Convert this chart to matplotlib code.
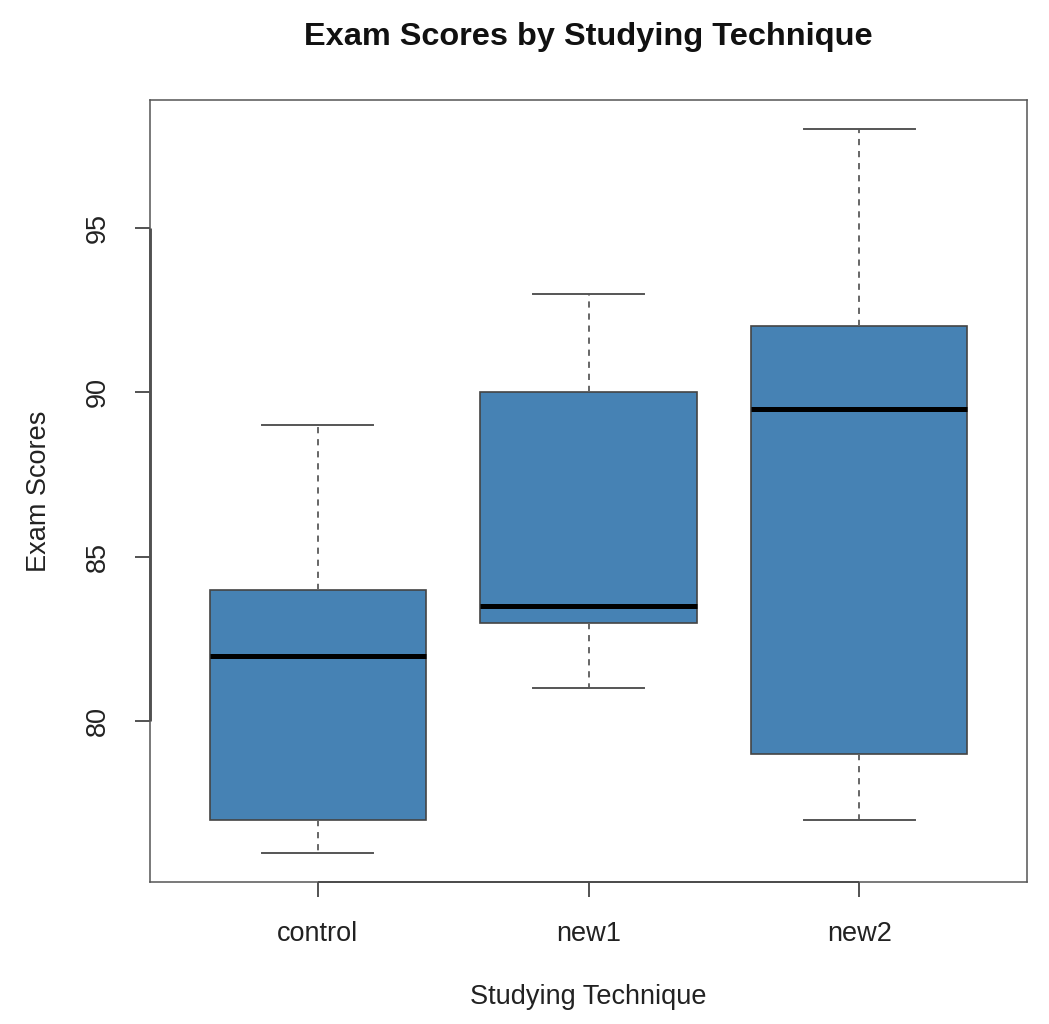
import matplotlib
matplotlib.use("Agg")
import matplotlib.pyplot as plt
import matplotlib.transforms as mtransforms

plt.rcParams["font.family"] = ["Liberation Sans", "DejaVu Sans"]

# five-number summaries
groups = ["control", "new1", "new2"]
whisker_lo = [76, 81, 77]
q1 = [77, 83, 79]
median = [82, 83.5, 89.5]
q3 = [84, 90, 92]
whisker_hi = [89, 93, 98]
yticks = [80, 85, 90, 95]

stats = []
for g, lo, a, m, b, hi in zip(groups, whisker_lo, q1, median, q3, whisker_hi):
    stats.append(dict(label=g, whislo=lo, q1=a, med=m, q3=b, whishi=hi, fliers=[]))

fig = plt.figure(figsize=(10.49, 10.24), dpi=100)
ax = fig.add_axes([150 / 1049, 1 - 882 / 1024, 877 / 1049, 782 / 1024])

ax.bxp(stats, positions=[1, 2, 3], widths=0.8, patch_artist=True,
       boxprops=dict(facecolor="#4682B4", edgecolor="#444444", linewidth=1.2),
       medianprops=dict(color="black", linewidth=3.6, solid_capstyle="butt"),
       whiskerprops=dict(color="#666666", linewidth=1.4, linestyle=(0, (3.2, 3.0))),
       capprops=dict(color="#555555", linewidth=1.4),
       capwidths=0.41, showfliers=False)

lo_all, hi_all = min(whisker_lo), max(whisker_hi)
pad = 0.04 * (hi_all - lo_all)
ax.set_ylim(lo_all - pad, hi_all + pad)
ax.set_xlim(0.5 - 0.12, 3.5 + 0.12)

for s in ax.spines.values():
    s.set_color("#555555")
    s.set_linewidth(1.1)

# R-style axis lines spanning the first to last tick
tl = mtransforms.blended_transform_factory(ax.transAxes, ax.transData)
ax.plot([0, 0], [yticks[0], yticks[-1]], transform=tl, color="#444444",
        lw=2.0, clip_on=False, solid_capstyle="butt")
tb = mtransforms.blended_transform_factory(ax.transData, ax.transAxes)
ax.plot([1, 3], [0, 0], transform=tb, color="#222222", lw=1.3,
        clip_on=False, solid_capstyle="butt")

ax.set_yticks(yticks)
ax.set_yticklabels([str(v) for v in yticks], rotation=90, va="center")
ax.set_xticks([1, 2, 3])
ax.set_xticklabels(groups)
ax.tick_params(axis="both", length=11, width=1.3, color="#444444",
               labelsize=19.5, labelcolor="#222222")
ax.tick_params(axis="x", pad=17)
ax.tick_params(axis="y", pad=17)

ax.set_xlabel("Studying Technique", fontsize=19.5, labelpad=27, color="#222222")
ax.set_ylabel("Exam Scores", fontsize=19.5, labelpad=24, color="#222222")
fig.text(588 / 1049, 1 - 37 / 1024, "Exam Scores by Studying Technique",
         ha="center", va="center", fontsize=23.4, fontweight="bold", color="#111111")

fig.savefig("out.png", dpi=100)
